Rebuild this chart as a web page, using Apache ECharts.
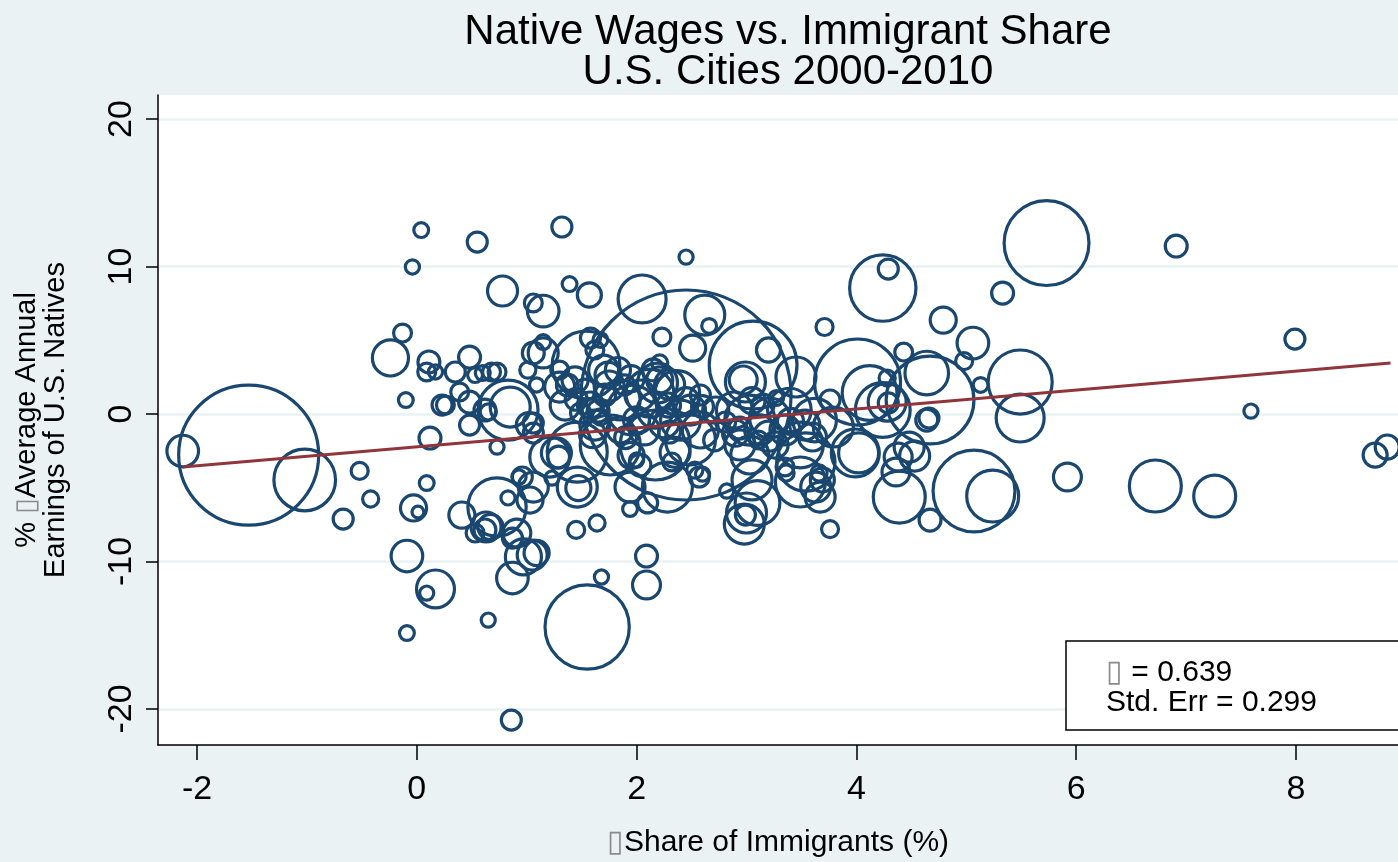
<!DOCTYPE html>
<html>
<head>
<meta charset="utf-8">
<title>Native Wages vs. Immigrant Share</title>
<script src="https://cdn.jsdelivr.net/npm/echarts@6/dist/echarts.min.js"></script>
<style>
  html, body { margin: 0; padding: 0; background: #eaf2f3; }
  #main { width: 1398px; height: 862px; }
</style>
</head>
<body>
<div id="main"></div>
<script>
// change in immigrant share (x), change in native earnings (y), city size weight
const immigrantShare = [
  -2.13,-1.53,-1.02,-0.52,-0.42,-0.67,-0.13,-0.24,0.11,0.09,
  0.17,0.35,-0.10,0.23,0.26,0.12,0.09,-0.03,0.01,-0.09,
  0.17,0.09,0.41,-0.09,0.65,0.86,0.04,-0.04,0.55,1.32,
  2.45,0.78,1.06,1.15,1.39,1.57,2.05,2.23,2.62,2.66,
  2.51,0.48,0.53,0.60,0.68,0.73,0.39,0.48,0.62,0.65,
  0.48,0.85,0.83,1.01,1.09,1.15,1.15,1.06,1.54,1.58,
  1.67,1.70,1.74,1.83,1.30,1.37,2.21,2.19,2.12,2.37,
  1.49,1.67,1.06,2.45,5.73,6.91,4.29,4.24,5.33,4.79,
  3.71,5.06,4.98,5.13,4.64,4.67,4.43,4.01,5.49,5.49,
  3.06,2.97,2.99,3.20,3.27,3.45,4.28,4.28,4.12,4.64,
  7.59,7.99,8.72,8.83,6.72,7.26,5.92,5.07,5.24,4.66,
  4.67,3.76,4.39,4.36,4.53,2.98,3.10,3.05,2.99,3.67,
  3.69,3.49,2.82,3.99,4.02,3.60,3.35,2.57,2.60,2.53,
  0.73,0.73,0.83,0.67,0.53,0.62,0.91,0.87,0.97,1.05,
  0.87,0.96,1.03,1.06,1.45,1.64,2.09,2.09,1.68,1.55,
  1.46,1.47,1.23,1.21,1.29,1.46,1.94,1.94,2.10,2.28,
  2.00,1.27,1.02,0.93,0.63,1.09,3.79,3.63,3.66,4.38,
  4.48,4.24,4.29,3.00,3.36,3.54,2.89,3.03,3.12,3.21,
  2.94,3.35,3.26,2.94,2.81,3.15,3.39,3.53,3.62,3.76,
  3.03,3.11,2.71,3.49,1.85,2.03,1.96,2.17,2.29,2.40,
  2.49,2.58,2.30,2.07,1.85,2.17,1.76,2.49,1.89,1.71,
  2.21,2.58,2.72,1.58,1.35,1.62,2.03,2.32,1.44,1.53,
  1.30,1.62,1.06,1.75,1.95,2.30,2.45,2.00,2.25,1.90,
  2.60,1.65,2.90,3.20,3.05,3.40,2.35,1.60,1.45,2.15,
  1.95
];
const wageChange = [
  -2.51,-2.78,-4.47,-3.86,-5.76,-7.12,5.49,3.80,3.53,2.85,
  2.85,2.85,0.95,0.61,0.61,-1.63,-4.68,-6.37,-6.64,-9.63,
  -11.86,-12.14,-6.85,-14.85,-13.97,-20.75,12.47,9.97,11.66,12.68,
  10.64,8.34,7.53,6.98,8.81,8.07,7.80,5.22,6.71,5.97,
  4.47,3.86,2.64,2.78,2.85,2.85,1.49,0.81,0.27,0.14,
  -0.75,0.47,0.27,2.98,1.97,4.14,4.88,4.14,3.32,5.15,
  5.02,2.98,2.64,2.98,1.83,1.97,3.46,2.10,1.42,1.42,
  0.07,-0.20,-0.61,1.29,11.59,11.39,9.83,8.54,8.20,6.37,
  5.90,4.81,3.59,1.97,2.78,0.95,4.20,2.17,2.17,-0.27,
  3.32,2.31,2.17,4.34,1.08,2.51,2.44,0.81,1.42,-0.41,
  0.20,5.08,-2.78,-2.24,-4.88,-5.56,-4.27,-5.22,-5.56,-0.27,
  -7.19,-7.80,-5.63,-3.93,-2.85,-7.46,-6.03,-4.47,-6.85,-5.63,
  -4.47,-4.61,-5.22,-2.64,-2.64,-1.56,-3.59,-4.27,-4.07,-3.80,
  -2.24,-6.31,-5.69,-7.66,-8.07,-7.86,-8.07,-8.41,-9.69,-9.56,
  -11.12,-4.27,-5.83,-4.95,-7.86,-7.39,-9.63,-11.59,-11.05,-14.44,
  -4.95,-5.02,-4.34,-2.92,-2.92,-2.58,-4.95,-6.44,-6.03,-4.95,
  -3.12,-2.64,-0.75,-4.27,-7.66,-9.42,-0.88,-4.95,-4.00,-2.92,
  -2.24,0.27,0.75,-6.71,-4.00,-3.25,0.27,-0.41,-1.08,-0.27,
  -0.95,-1.08,-2.10,-2.10,-0.54,0.61,0.27,-0.75,-0.41,0.95,
  -2.78,-1.76,-1.76,-2.10,0.95,1.29,0.27,0.27,0.61,-0.41,
  0.27,-1.08,-1.22,-1.08,-1.08,-2.10,-2.10,-1.76,1.97,1.29,
  2.31,1.29,0.27,0.61,0.61,-0.75,-3.46,-3.25,2.31,1.63,
  2.98,4.34,-1.29,1.90,2.40,2.00,0.90,-0.40,-0.60,-1.60,
  0.50,0.20,-1.30,-1.50,0.90,-0.50,-2.60,-1.40,1.00,3.00,
  -2.80
];
const cityWeight = [
  10,196,38,2.9,2.6,4,3.2,13,4.8,3.2,
  2,4,2.2,4,3.2,4.8,2.2,6.8,1.4,10,
  14.4,2,6.8,2.2,2,4,2.2,2,4,4,
  2,9,3.2,10,2.2,5.8,23,3.2,16,2.2,
  6.8,4.8,2.2,2.2,3.2,3.2,3.2,4.8,4.8,2.6,
  4,16,36,2.6,2,9,2.2,4.8,46,4,
  2.2,9,6.8,6.3,9,4.8,2.6,16,23,20,
  4,2.6,4,441,72,4.8,4,44,4.8,6.8,
  2.9,10,2.9,2.2,19,77,3.2,74,41,23,
  77,7.8,16,5.8,2.2,16,2.6,14.4,30,4.8,
  2,4,5.8,5.8,27,17.6,7.8,67,27,4,
  4.8,2.9,27,7.8,9,16,20,16,4,9,
  5.8,25,2,23,16,7.8,3.2,4,2,2.6,
  2,34,2,6.3,3.2,4.8,7.8,4,13,9,
  10,4,6.8,9,2.9,2.6,4.8,7.8,2,71,
  16,6.3,2,16,4.8,36,9,2.2,4,25,
  2,9,6.3,2,9,6.3,16,9,2.6,7.8,
  9,30,4,16,2.6,34,13,25,9,16,
  4.8,9,6.8,9,4,4.8,19,9,19,4,
  14.4,3.2,4.8,21,16,9,25,13,5.8,16,
  9,13,4.8,9,6.8,49,36,25,4,4.8,
  6.8,4,6.8,6.8,9,9,4.8,3.2,6.8,4.8,
  3.2,3.2,4,9,6.8,9,6.8,6.8,9,4.8,
  4.8,4.8,6.8,9,6.8,6.8,9,6.8,4.8,4.8,
  6.8
];

// fitted line end points
const fitX = [-2.13, 8.86];
const fitY = [-3.59, 3.46];

const xTicks = [-2, 0, 2, 4, 6, 8];
const yTicks = [-20, -10, 0, 10, 20];

const beta = '0.639';
const stdErr = '0.299';

const font = "'Liberation Sans', Arial, Helvetica, sans-serif";
const navy = '#1a476f';
const tofu = { color: '#8c8c8c' };

let myChart = echarts.init(document.getElementById('main'));

let points = immigrantShare.map((x, i) => [x, wageChange[i], cityWeight[i]]);
let fitLine = fitX.map((x, i) => [x, fitY[i]]);

let option = {
  backgroundColor: '#eaf2f3',
  animation: false,
  title: {
    text: 'Native Wages vs. Immigrant Share\nU.S. Cities 2000-2010',
    left: 783,
    top: 7,
    textAlign: 'center',
    textStyle: {
      fontFamily: font,
      fontSize: 42,
      lineHeight: 40,
      fontWeight: 'normal',
      color: '#000'
    }
  },
  grid: {
    left: 158,
    right: 0,
    top: 95,
    bottom: 117,
    show: true,
    backgroundColor: '#fff',
    borderWidth: 0,
    outerBoundsMode: 'none'
  },
  xAxis: {
    type: 'value',
    min: -2.355,
    max: 8.928,
    name: '{t|\u25AF}Share of Immigrants (%)',
    nameLocation: 'middle',
    nameGap: 83,
    nameTextStyle: {
      fontFamily: font, fontSize: 30, color: '#000',
      rich: { t: Object.assign({ fontFamily: font, fontSize: 30 }, tofu) }
    },
    axisLine: { onZero: false, lineStyle: { color: '#000', width: 1.5 } },
    axisTick: { show: true, length: 15, lineStyle: { color: '#000', width: 1.5 }, customValues: xTicks },
    axisLabel: { fontFamily: font, fontSize: 34, color: '#000', margin: 28, customValues: xTicks },
    splitLine: { show: false }
  },
  yAxis: {
    type: 'value',
    min: -22.44,
    max: 21.63,
    name: '% {t|\u25AF}Average Annual\nEarnings of U.S. Natives',
    nameLocation: 'middle',
    nameRotate: 90,
    nameGap: 88,
    nameTextStyle: {
      fontFamily: font, fontSize: 29, lineHeight: 29, color: '#000', align: 'center',
      rich: { t: Object.assign({ fontFamily: font, fontSize: 29, lineHeight: 29 }, tofu) }
    },
    axisLine: { onZero: false, lineStyle: { color: '#000', width: 1.5 } },
    axisTick: { show: true, length: 12, lineStyle: { color: '#000', width: 1.5 }, customValues: yTicks },
    axisLabel: { fontFamily: font, fontSize: 34, color: '#000', rotate: 90, margin: 19, customValues: yTicks },
    splitLine: { show: true, lineStyle: { color: '#eaf2f3', width: 2.5 } }
  },
  series: [
    {
      type: 'scatter',
      data: points,
      symbol: 'circle',
      symbolSize: function (v) { return 10 * Math.sqrt(v[2]); },
      itemStyle: { color: 'rgba(0,0,0,0)', borderColor: navy, borderWidth: 3.2, opacity: 1 },
      emphasis: { disabled: true },
      clip: true,
      z: 2
    },
    {
      type: 'line',
      data: fitLine,
      symbol: 'none',
      lineStyle: { color: '#90353b', width: 3.2 },
      emphasis: { disabled: true },
      z: 3
    }
  ],
  graphic: [
    {
      type: 'rect',
      shape: { x: 1066, y: 641, width: 340, height: 89 },
      style: { fill: '#fff', stroke: '#000', lineWidth: 1.5 },
      z: 10
    },
    {
      type: 'text',
      x: 1106,
      y: 673,
      style: {
        text: '{t|\u25AF} = ' + beta,
        fontFamily: font,
        fontSize: 30,
        fill: '#000',
        verticalAlign: 'middle',
        rich: { t: { fontFamily: font, fontSize: 30, fill: '#8c8c8c' } }
      },
      z: 11
    },
    {
      type: 'text',
      x: 1106,
      y: 703,
      style: {
        text: 'Std. Err = ' + stdErr,
        fontFamily: font,
        fontSize: 30,
        fill: '#000',
        verticalAlign: 'middle'
      },
      z: 11
    }
  ]
};
myChart.setOption(option);
</script>
</body>
</html>
